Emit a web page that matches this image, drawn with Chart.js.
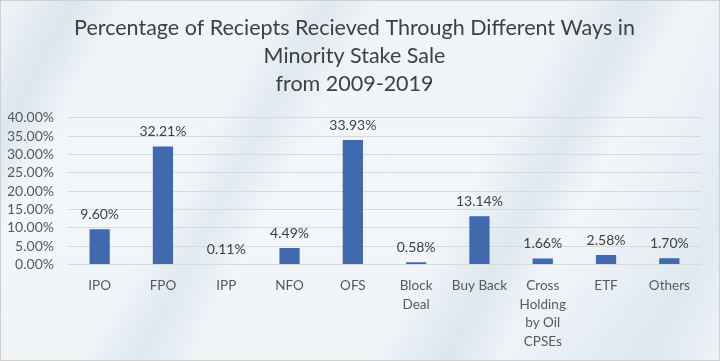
<!DOCTYPE html>
<html>
<head>
<meta charset="utf-8">
<script src="https://cdn.jsdelivr.net/npm/chart.js@4/dist/chart.umd.min.js"></script>
<style>
html,body{margin:0;padding:0;}
body{width:720px;height:361px;overflow:hidden;}
#wrap{position:relative;width:718px;height:359px;border:1px solid #d0d0d0;
background:
 linear-gradient(118deg, rgba(255,255,255,0) 0%, rgba(195,215,230,0.5) 8%, rgba(255,255,255,0) 14%, rgba(255,255,255,0) 30%, rgba(190,212,228,0.35) 36%, rgba(255,255,255,0) 42%, rgba(255,255,255,0) 62%, rgba(195,215,230,0.45) 70%, rgba(255,255,255,0) 76%, rgba(200,218,232,0.45) 92%, rgba(255,255,255,0) 100%),
 linear-gradient(180deg,#f1f4f7 0%,#f4f7f9 60%,#eef3f6 100%);}
canvas{position:absolute;left:0;top:0;}
</style>
</head>
<body>
<div id="wrap"><canvas id="c" width="718" height="359"></canvas></div>
<script>
const categories = ["IPO","FPO","IPP","NFO","OFS",["Block","Deal"],"Buy Back",["Cross","Holding","by Oil","CPSEs"],"ETF","Others"];
const values = [9.60,32.21,0.11,4.49,33.93,0.58,13.14,1.66,2.58,1.70];
const titleLines = ["Percentage of Reciepts Recieved Through Different Ways in","Minority Stake Sale","from 2009-2019"];
const yMin = 0, yMax = 40, yStep = 5;

const FONT = "Lato, 'Open Sans', sans-serif";

const labelPlugin = {
  id:'barLabels',
  afterDatasetsDraw(chart){
    const ctx = chart.ctx;
    const meta = chart.getDatasetMeta(0);
    ctx.save();
    ctx.font = "14px " + FONT;
    ctx.fillStyle = "#404040";
    ctx.textAlign = "center";
    ctx.textBaseline = "middle";
    meta.data.forEach((bar,i)=>{
      ctx.fillText(values[i].toFixed(2)+"%", bar.x, bar.y - 15);
    });
    ctx.restore();
  }
};

new Chart(document.getElementById('c'),{
  type:'bar',
  data:{labels:categories,datasets:[{data:values,backgroundColor:'#4169AE',barPercentage:0.64,categoryPercentage:0.5}]},
  options:{
    responsive:false,animation:false,
    layout:{padding:{left:7,right:18,top:4,bottom:5}},
    plugins:{
      legend:{display:false},tooltip:{enabled:false},
      title:{display:true,text:titleLines,color:'#404040',font:{family:FONT,size:21.5,weight:'normal',lineHeight:1.3},padding:{top:9,bottom:20}}
    },
    scales:{
      y:{min:yMin,max:yMax,ticks:{stepSize:yStep,autoSkip:false,color:'#595959',font:{family:FONT,size:14},padding:14,callback:v=>v.toFixed(2)+'%'},
         afterFit:s=>{s.width=60;},
         grid:{color:'#d9d9d9',drawTicks:false},border:{display:false}},
      x:{ticks:{color:'#595959',font:{family:FONT,size:13.5,lineHeight:1.38},padding:4,maxRotation:0,autoSkip:false},
         grid:{display:false},border:{display:true,color:'#d9d9d9'}}
    }
  },
  plugins:[labelPlugin]
});
</script>
</body>
</html>
